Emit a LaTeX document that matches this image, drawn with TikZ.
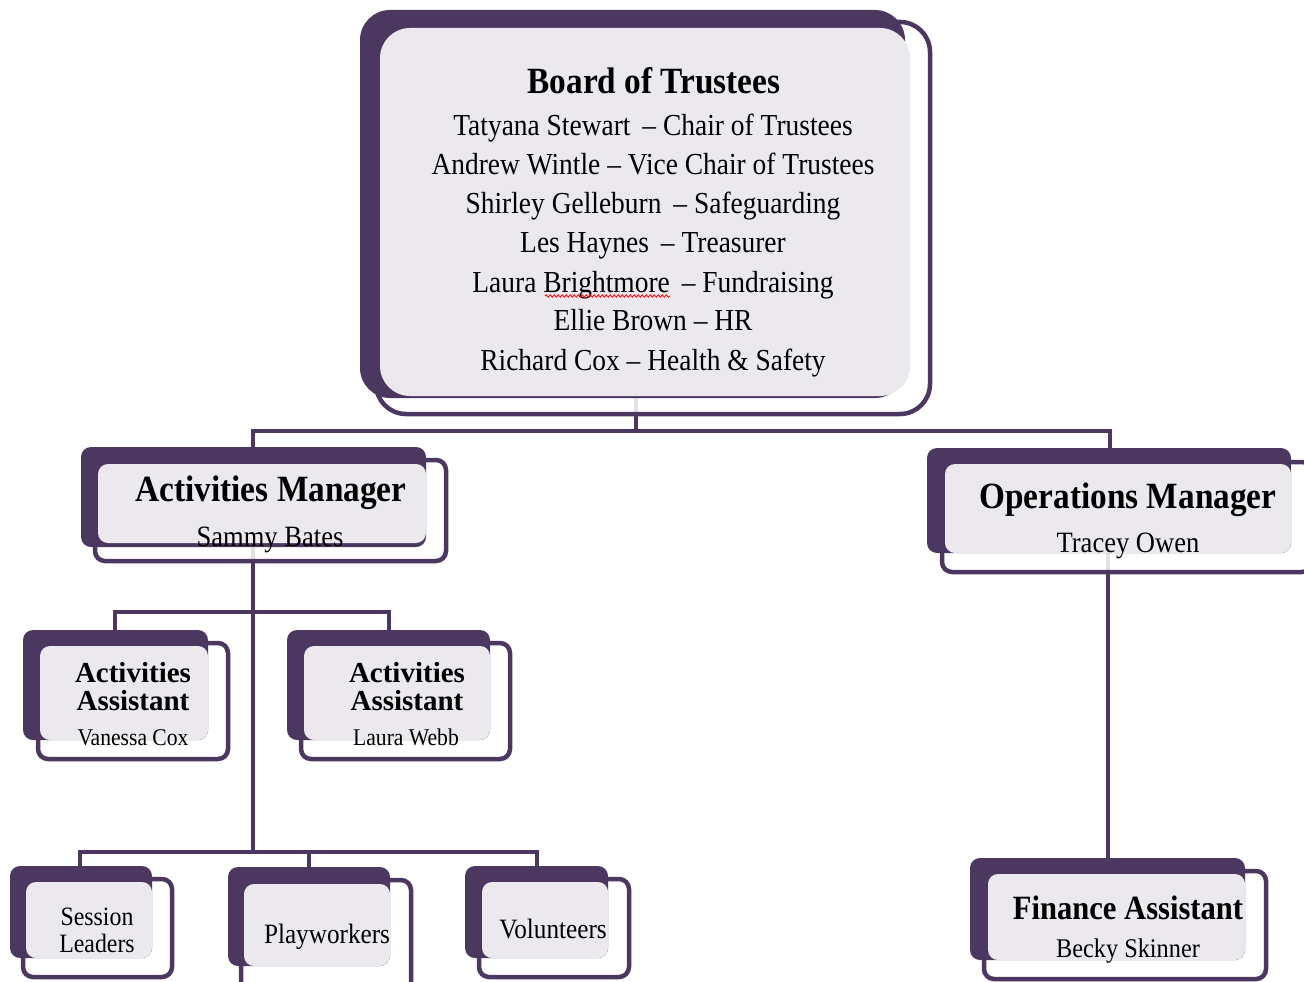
\documentclass[tikz,border=0pt]{standalone}
\usepackage{fontspec}
\setmainfont{Liberation Serif}[FakeStretch=0.9]
\newfontfamily\plainserif{Liberation Serif}
\usetikzlibrary{decorations.pathmorphing}
\definecolor{dpurple}{HTML}{4B3760}
\definecolor{lfill}{HTML}{EBE8EE}
\newcommand\orgbox[4]{%
  \draw[outl, rounded corners=#4] #2;
  \fill[dpurple, rounded corners=#4] #1;
  \fill[lfill, rounded corners=#4] #3;}
\begin{document}
\begin{tikzpicture}[x=1pt,y=-1pt,
  outl/.style={draw=dpurple, line width=4.5pt, fill=white, fill opacity=0.85},
  conn/.style={draw=dpurple, line width=4pt},
  txt/.style={inner sep=0pt, anchor=base},
  hb/.style={txt, font=\fontsize{37}{40}\selectfont\bfseries},
  bd/.style={txt, font=\fontsize{30.5}{32}\selectfont},
  aah/.style={txt, font=\plainserif\fontsize{29}{30}\selectfont\bfseries}]
\useasboundingbox (0,0) rectangle (1304,982);
\clip (0,0) rectangle (1304,982);
% anchor coordinates
\coordinate (bt-b) at (636,396);
\coordinate (bt-j) at (636,431);
\coordinate (am-t) at (253,447);
\coordinate (om-t) at (1110,449);
\coordinate (am-b) at (253,543);
\coordinate (aj1) at (253,612);
\coordinate (aj2) at (253,852);
\coordinate (aa1-t) at (115,630);
\coordinate (aa2-t) at (389,630);
\coordinate (sl-t) at (80,866);
\coordinate (pw-t) at (309,867);
\coordinate (vo-t) at (537,866);
\coordinate (om-b) at (1108,553);
\coordinate (fa-t) at (1108,858);
% connectors
\draw[conn] (bt-b) -- (bt-j);
\draw[conn] (am-t) |- (bt-j) -| (om-t);
\draw[conn] (am-b) -- (aj2);
\draw[conn] (aa1-t) |- (aj1) -| (aa2-t);
\draw[conn] (sl-t) |- (aj2) -| (vo-t);
\draw[conn] (pw-t) -- (pw-t |- aj2);
\draw[conn] (om-b) -- (fa-t);
% boxes
\orgbox{(360,10) rectangle (905,398)}{(376,22) rectangle (930,414)}{(380,28) rectangle (910,396)}{30pt}
\orgbox{(81,447) rectangle (426,547)}{(95,460) rectangle (446,561)}{(98,464) rectangle (426,543)}{10pt}
\orgbox{(927,448) rectangle (1291,553)}{(942,462) rectangle (1312,572)}{(945,464) rectangle (1291,553)}{10pt}
\orgbox{(23,630) rectangle (208,740)}{(38,643) rectangle (228,759)}{(40,646) rectangle (208,740)}{10pt}
\orgbox{(287,630) rectangle (490,740)}{(301,643) rectangle (510,759)}{(304,646) rectangle (490,740)}{10pt}
\orgbox{(10,866) rectangle (152,958)}{(23,879) rectangle (172,977)}{(26,882) rectangle (152,958)}{10pt}
\orgbox{(228,867) rectangle (390,966)}{(241,880) rectangle (411,995)}{(244,884) rectangle (390,966)}{10pt}
\orgbox{(465,866) rectangle (608,958)}{(479,879) rectangle (629,977)}{(482,882) rectangle (608,958)}{10pt}
\orgbox{(970,858) rectangle (1245,960)}{(984,871) rectangle (1266,979)}{(988,874) rectangle (1245,960)}{10pt}
% board text
\node[hb] (bt-h) at (654,93) {Board of Trustees};
\node[bd] (bt-1) at (653,135) {Tatyana Stewart \,– Chair of Trustees};
\node[bd] (bt-2) at (653,174) {Andrew Wintle – Vice Chair of Trustees};
\node[bd] (bt-3) at (653,213) {Shirley Gelleburn \,– Safeguarding};
\node[bd] (bt-4) at (653,252) {Les Haynes \,– Treasurer};
\node[bd] (bt-5) at (653,292) {Laura Brightmore \,– Fundraising};
\node[bd] (bt-6) at (653,330) {Ellie Brown – HR};
\node[bd] (bt-7) at (653,370) {Richard Cox – Health \& Safety};
\draw[red, line width=0.8pt, decorate, decoration={snake, amplitude=1.2pt, segment length=4pt}] (545,296) -- (670,296);
% managers
\node[hb] (am-h) at (271,501) {Activities Manager};
\node[txt, font=\fontsize{29.5}{32}\selectfont] (am-n) at (270,546) {Sammy Bates};
\node[hb] (om-h) at (1128,508) {Operations Manager};
\node[txt, font=\fontsize{29.5}{32}\selectfont] (om-n) at (1128,552) {Tracey Owen};
% assistants
\node[aah] (aa1-h1) at (133,682) {Activities};
\node[aah] (aa1-h2) at (133,710) {Assistant};
\node[txt, font=\fontsize{24}{26}\selectfont] (aa1-n) at (133,745) {Vanessa Cox};
\node[aah] (aa2-h1) at (407,682) {Activities};
\node[aah] (aa2-h2) at (407,710) {Assistant};
\node[txt, font=\fontsize{24}{26}\selectfont] (aa2-n) at (406,745) {Laura Webb};
% bottom row
\node[txt, font=\fontsize{26.5}{27}\selectfont] (sl-1) at (97,925) {Session};
\node[txt, font=\fontsize{26.5}{27}\selectfont] (sl-2) at (97,952) {Leaders};
\node[txt, font=\fontsize{28}{30}\selectfont] (pw) at (327,943) {Playworkers};
\node[txt, font=\fontsize{28}{30}\selectfont] (vo) at (553,938) {Volunteers};
\node[txt, font=\fontsize{34}{36}\selectfont\bfseries] (fa-h) at (1128,919) {Finance Assistant};
\node[txt, font=\fontsize{27}{29}\selectfont] (fa-n) at (1128,957) {Becky Skinner};
\end{tikzpicture}
\end{document}
